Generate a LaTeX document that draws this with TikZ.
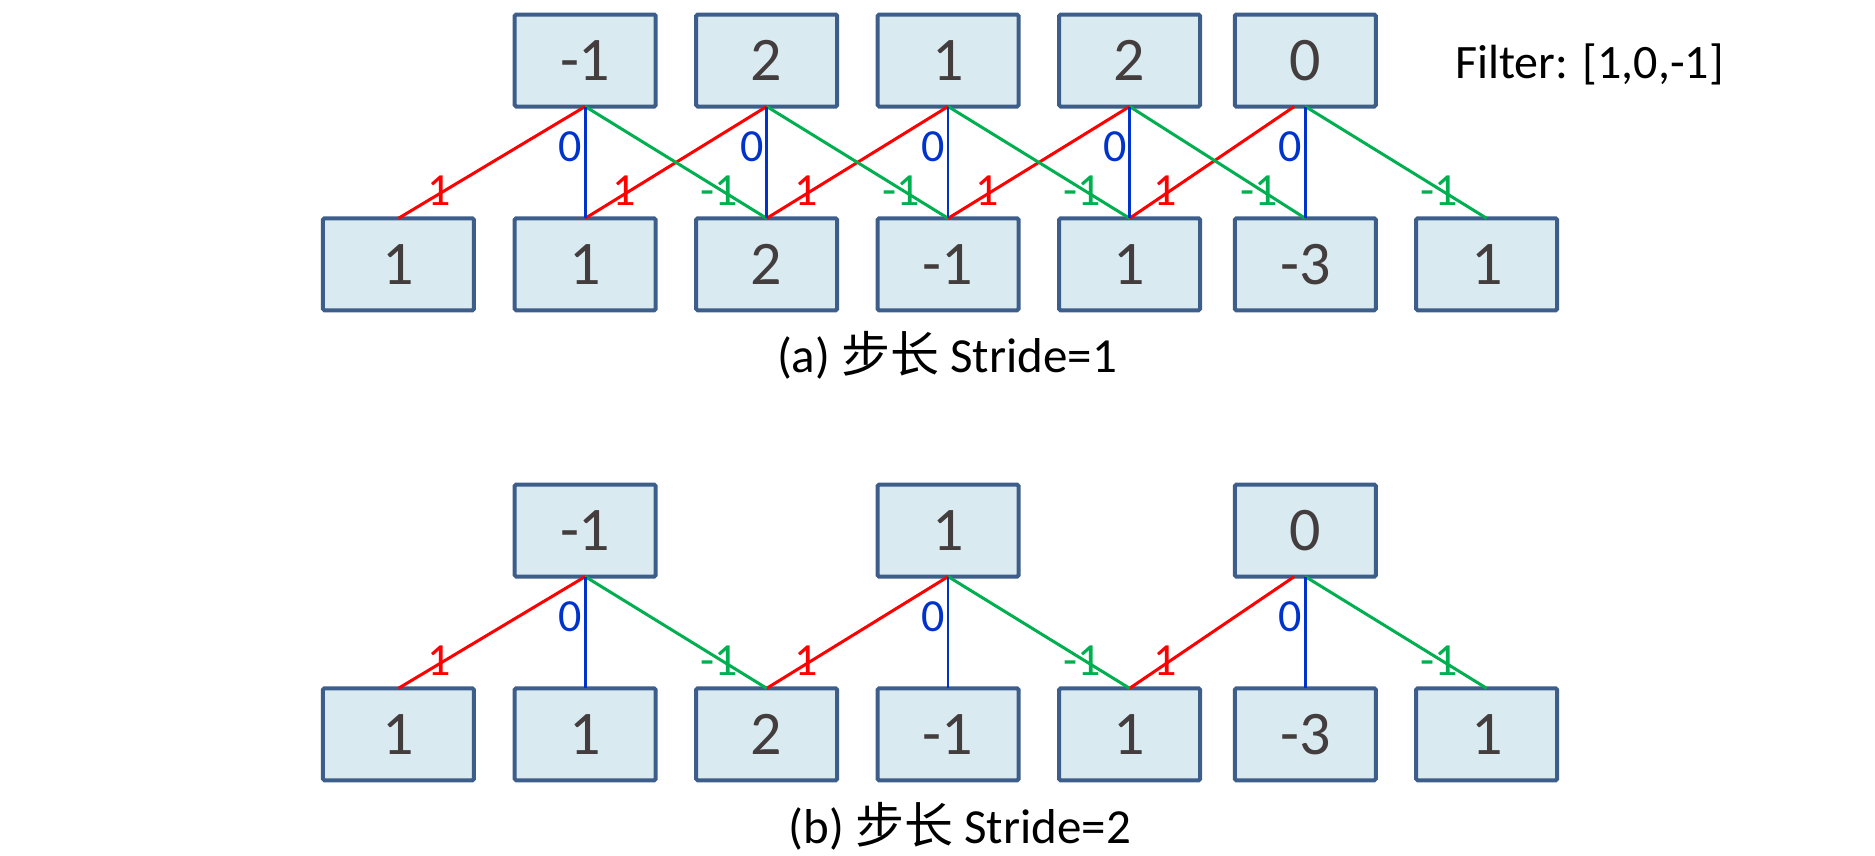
\documentclass[tikz,border=0pt]{standalone}
\usepackage{fontspec}
\setmainfont{Carlito}
\newfontfamily\cjk{Noto Sans CJK SC}
\definecolor{boxfill}{HTML}{DAEAF1}
\definecolor{boxline}{HTML}{3D5E8A}
\definecolor{numcol}{HTML}{433D3D}
\definecolor{wred}{HTML}{FF0000}
\definecolor{wblue}{HTML}{0033CC}
\definecolor{wgreen}{HTML}{00B050}
\tikzset{
  cell/.style={draw=boxline, fill=boxfill, line width=4pt, rounded corners=1.5pt,
    minimum width=141pt, minimum height=92pt, inner sep=0pt, outer sep=0pt,
    text=numcol, font=\fontsize{62}{62}\selectfont},
  widecell/.style={minimum width=151pt},
  rl/.style={draw=wred, line width=3pt},
  bl/.style={draw=wblue, line width=2.6pt},
  gl/.style={draw=wgreen, line width=3pt},
  lab/.style={inner sep=0pt, outer sep=0pt, font=\fontsize{46}{46}\selectfont},
  rlab/.style={lab, text=wred, pos=0.75, xshift=-6pt},
  glab/.style={lab, text=wgreen, pos=0.75, xshift=-2pt},
  blab/.style={lab, text=wblue, pos=0.36, anchor=east, xshift=-3pt},
  capt/.style={inner sep=0pt, anchor=base, font=\fontsize{49}{49}\selectfont},
}
\begin{document}
\begin{tikzpicture}[x=1pt,y=-1pt]
\useasboundingbox (0,0) rectangle (1875,855);
% ---------- stride 1 ----------
\node[cell] (s1t1) at (585.2,60.5) {-1};
\node[cell] (s1t2) at (766.7,60.5) {2};
\node[cell] (s1t3) at (948.1,60.5) {1};
\node[cell] (s1t4) at (1129.6,60.5) {2};
\node[cell] (s1t5) at (1305.3,60.5) {0};
\node[cell,widecell] (s1b1) at (398.4,264.3) {1};
\node[cell] (s1b2) at (585.2,264.3) {1};
\node[cell] (s1b3) at (766.7,264.3) {2};
\node[cell] (s1b4) at (948.1,264.3) {-1};
\node[cell] (s1b5) at (1129.6,264.3) {1};
\node[cell] (s1b6) at (1305.3,264.3) {-3};
\node[cell] (s1b7) at (1486.7,264.3) {1};
\coordinate (s1t5r) at ([xshift=-11pt]s1t5.south);
\draw[rl] (s1t1.south) -- node[rlab]{1} (s1b1.north);
\draw[rl] (s1t2.south) -- node[rlab]{1} (s1b2.north);
\draw[rl] (s1t3.south) -- node[rlab]{1} (s1b3.north);
\draw[rl] (s1t4.south) -- node[rlab]{1} (s1b4.north);
\draw[rl] (s1t5r) -- node[rlab]{1} (s1b5.north);
\draw[gl] (s1t1.south) -- node[glab]{-1} (s1b3.north);
\draw[gl] (s1t2.south) -- node[glab]{-1} (s1b4.north);
\draw[gl] (s1t3.south) -- node[glab]{-1} (s1b5.north);
\draw[gl] (s1t4.south) -- node[glab]{-1} (s1b6.north);
\draw[gl] (s1t5.south) -- node[glab]{-1} (s1b7.north);
\draw[bl] (s1t1.south) -- node[blab]{0} (s1b2.north);
\draw[bl] (s1t2.south) -- node[blab]{0} (s1b3.north);
\draw[bl] (s1t3.south) -- node[blab]{0} (s1b4.north);
\draw[bl] (s1t4.south) -- node[blab]{0} (s1b5.north);
\draw[bl] (s1t5.south) -- node[blab]{0} (s1b6.north);
\node[anchor=base west, inner sep=0pt, font=\fontsize{48}{48}\selectfont] (filt) at (1455,78) {Filter: [1,0,-1]};
\node[capt] (capa) at (947,372.7) {(a) {\cjk 步长} Stride=1};
% ---------- stride 2 ----------
\node[cell] (s2t1) at (585.2,530.6) {-1};
\node[cell] (s2t2) at (948.1,530.6) {1};
\node[cell] (s2t3) at (1305.3,530.6) {0};
\node[cell,widecell] (s2b1) at (398.4,734.3) {1};
\node[cell] (s2b2) at (585.2,734.3) {1};
\node[cell] (s2b3) at (766.7,734.3) {2};
\node[cell] (s2b4) at (948.1,734.3) {-1};
\node[cell] (s2b5) at (1129.6,734.3) {1};
\node[cell] (s2b6) at (1305.3,734.3) {-3};
\node[cell] (s2b7) at (1486.7,734.3) {1};
\coordinate (s2t3r) at ([xshift=-11pt]s2t3.south);
\draw[rl] (s2t1.south) -- node[rlab]{1} (s2b1.north);
\draw[rl] (s2t2.south) -- node[rlab]{1} (s2b3.north);
\draw[rl] (s2t3r) -- node[rlab]{1} (s2b5.north);
\draw[gl] (s2t1.south) -- node[glab]{-1} (s2b3.north);
\draw[gl] (s2t2.south) -- node[glab]{-1} (s2b5.north);
\draw[gl] (s2t3.south) -- node[glab]{-1} (s2b7.north);
\draw[bl] (s2t1.south) -- node[blab]{0} (s2b2.north);
\draw[bl] (s2t2.south) -- node[blab]{0} (s2b4.north);
\draw[bl] (s2t3.south) -- node[blab]{0} (s2b6.north);
\node[capt] (capb) at (960,843.3) {(b) {\cjk 步长} Stride=2};
\end{tikzpicture}
\end{document}
